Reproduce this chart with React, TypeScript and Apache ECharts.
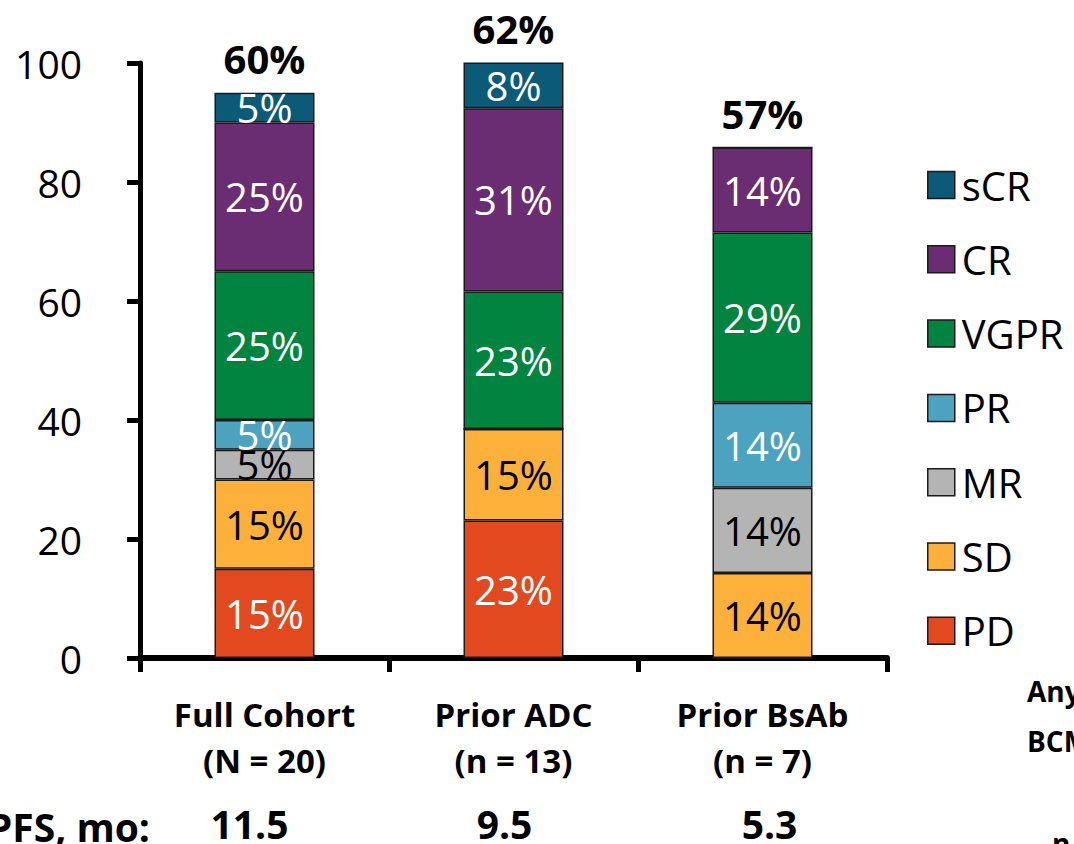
import React, { useEffect, useRef } from "react";
import * as echarts from "echarts";

const categories = ["Full Cohort", "Prior ADC", "Prior BsAb"];
const sampleSizes = ["(N = 20)", "(n = 13)", "(n = 7)"];
const pfsMonths = ["11.5", "9.5", "5.3"];
const orrPercent = [60, 62, 57];

const responseNames = ["PD", "SD", "MR", "PR", "VGPR", "CR", "sCR"];
const pdValues = [15, 23.1, 0];
const sdValues = [15, 15.4, 14.3];
const mrValues = [5, 0, 14.3];
const prValues = [5, 0, 14.3];
const vgprValues = [25, 23.1, 28.6];
const crValues = [25, 30.8, 14.3];
const scrValues = [5, 7.7, 0];

const yTicks = { min: 0, max: 100, interval: 20 };

const colors: Record<string, string> = {
  PD: "#E2491E",
  SD: "#FDB13B",
  MR: "#B4B4B4",
  PR: "#4BA3C0",
  VGPR: "#00843F",
  CR: "#6B2D72",
  sCR: "#0B5A78",
};
const labelColors: Record<string, string> = {
  PD: "#ffffff",
  SD: "#000000",
  MR: "#000000",
  PR: "#ffffff",
  VGPR: "#ffffff",
  CR: "#ffffff",
  sCR: "#ffffff",
};

const FONT = "'Open Sans', 'Noto Sans', sans-serif";
// horizontal nudges of the PFS values relative to category centre
const pfsPad = [
  [0, 30, 0, 0],
  [0, 18, 0, 0],
  [0, 0, 0, 14],
];

export default function App() {
  const ref = useRef<HTMLDivElement>(null);
  useEffect(() => {
    if (!ref.current) return;
    const chart = echarts.init(ref.current, null, { renderer: "svg" });
    const valueSets = [pdValues, sdValues, mrValues, prValues, vgprValues, crValues, scrValues];
    const totals = categories.map((_, i) =>
      valueSets.reduce((s, arr) => s + arr[i], 0)
    );
    const barSeries = responseNames.map((name, k) => ({
      name,
      type: "bar",
      stack: "resp",
      barWidth: 100,
      data: valueSets[k],
      itemStyle: { color: colors[name], borderColor: "#1a1a1a", borderWidth: 1.5 },
      label: {
        show: true,
        position: "inside",
        color: labelColors[name],
        fontFamily: FONT,
        fontSize: 40,
        formatter: (p: any) => (p.value > 0 ? Math.round(p.value) + "%" : ""),
      },
    }));
    const rich: any = {
      a: { fontFamily: FONT, fontWeight: "bold", fontSize: 33, lineHeight: 46, color: "#000" },
    };
    pfsPad.forEach((pad, i) => {
      rich["b" + i] = {
        fontFamily: FONT,
        fontWeight: "bold",
        fontSize: 39,
        lineHeight: 80,
        color: "#000",
        padding: pad,
      };
    });
    const option: any = {
      animation: false,
      textStyle: { fontFamily: FONT },
      grid: { left: 140, right: 187, top: 63, bottom: 186 },
      legend: {
        orient: "vertical",
        left: 922,
        top: 160,
        data: responseNames.slice().reverse(),
        icon: "rect",
        itemWidth: 27,
        itemHeight: 27,
        itemGap: 34.3,
        itemStyle: { borderColor: "#1a1a1a", borderWidth: 1.5 },
        textStyle: { fontFamily: FONT, fontSize: 40, color: "#000", lineHeight: 40, padding: [0, 0, 0, 2] },
        selectedMode: false,
      },
      xAxis: {
        type: "category",
        data: categories,
        axisLine: { show: true, lineStyle: { color: "#000", width: 6 } },
        axisTick: { show: true, length: 14, lineStyle: { color: "#000", width: 5 } },
        axisLabel: {
          margin: 33,
          interval: 0,
          formatter: (v: string, i: number) =>
            `{a|${v}}\n{a|${sampleSizes[i]}}\n{b${i}|${pfsMonths[i]}}`,
          rich,
        },
      },
      yAxis: {
        type: "value",
        min: yTicks.min,
        max: yTicks.max,
        interval: yTicks.interval,
        axisLine: { show: true, lineStyle: { color: "#000", width: 5 } },
        axisTick: { show: true, length: 13, lineStyle: { color: "#000", width: 5 } },
        splitLine: { show: false },
        axisLabel: { fontFamily: FONT, fontSize: 39, color: "#000", margin: 58 },
      },
      series: [
        ...barSeries,
        {
          name: "ORR",
          type: "scatter",
          symbolSize: 0,
          clip: false,
          data: totals,
          itemStyle: { opacity: 1 },
          label: {
            show: true,
            position: "top",
            distance: 14,
            fontFamily: FONT,
            fontWeight: "bold",
            fontSize: 40,
            color: "#000",
            opacity: 1,
            formatter: (p: any) => orrPercent[p.dataIndex] + "%",
          },
          z: 10,
        },
      ],
      graphic: [
        {
          type: "text",
          x: 150,
          y: 826,
          style: {
            text: "PFS, mo:",
            textAlign: "right",
            textVerticalAlign: "middle",
            fontFamily: FONT,
            fontWeight: "bold",
            fontSize: 39,
            fill: "#000",
          },
        },
        {
          type: "text",
          x: 1027,
          y: 691,
          style: { text: "Any", textVerticalAlign: "middle", fontFamily: FONT, fontWeight: "bold", fontSize: 28, fill: "#000" },
        },
        {
          type: "text",
          x: 1027,
          y: 741,
          style: { text: "BCMA", textVerticalAlign: "middle", fontFamily: FONT, fontWeight: "bold", fontSize: 28, fill: "#000" },
        },
        {
          type: "text",
          x: 1052,
          y: 843,
          style: { text: "n", textVerticalAlign: "middle", fontFamily: FONT, fontWeight: "bold", fontSize: 28, fill: "#000" },
        },
      ],
    };
    chart.setOption(option);
    return () => chart.dispose();
  }, []);
  return (
    <div
      ref={ref}
      style={{ position: "absolute", left: 0, top: 0, width: 1074, height: 844, background: "#fff" }}
    />
  );
}
